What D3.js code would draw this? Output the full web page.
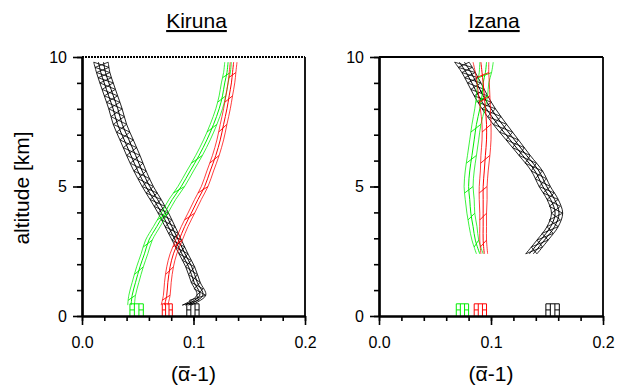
<!DOCTYPE html>
<html><head><meta charset="utf-8">
<script src="https://cdn.jsdelivr.net/npm/d3@7"></script>
<style>body{margin:0;background:#fff}text{font-family:"Liberation Sans",Arial,sans-serif}</style>
</head><body>
<script>
// ---------------- data ----------------
const xTicks = [0, 0.1, 0.2];
const xTickLabels = ["0.0", "0.1", "0.2"];
const yTicks = [0, 5, 10];
const yTickLabels = ["0", "5", "10"];

const kirunaAlt   = [0.42,0.8,1.3,1.9,2.4,2.93,3.45,3.97,4.5,5.0,5.6,6.2,6.8,7.4,8.0,8.5,9.0,9.4,9.8];
const kirunaBlack = [0.094,0.107,0.102,0.097,0.091,0.085,0.079,0.073,0.066,0.059,0.052,0.046,0.040,0.034,0.030,0.026,0.022,0.019,0.017];
const kirunaBlackHW = [0.004,0.004,0.004,0.004,0.004,0.0042,0.0045,0.0047,0.005,0.005,0.0055,0.006,0.006,0.006,0.006,0.006,0.006,0.006,0.0065];
const kirunaGreen = [0.044,0.045,0.048,0.052,0.056,0.060,0.067,0.074,0.081,0.089,0.097,0.105,0.112,0.118,0.123,0.126,0.128,0.130,0.131];
const kirunaGreenHW = [0.003,0.003,0.003,0.003,0.003,0.003,0.003,0.003,0.003,0.003,0.003,0.003,0.003,0.003,0.003,0.003,0.003,0.003,0.003];
const kirunaRed   = [0.074,0.076,0.077,0.079,0.082,0.087,0.092,0.098,0.104,0.110,0.115,0.120,0.124,0.127,0.130,0.132,0.134,0.135,0.136];
const kirunaRedHW = [0.003,0.003,0.003,0.003,0.003,0.003,0.003,0.003,0.003,0.003,0.003,0.003,0.003,0.003,0.003,0.003,0.003,0.003,0.003];
const kirunaBoxes = [
  {name:"green", lo:0.043, hi:0.055},
  {name:"red",   lo:0.072, hi:0.081},
  {name:"black", lo:0.094, hi:0.105}
];

const izanaAlt   = [2.4,2.93,3.45,3.97,4.5,5.0,5.6,6.2,6.8,7.4,8.0,8.5,9.0,9.4,9.8];
const izanaBlack = [0.136,0.146,0.155,0.159,0.155,0.148,0.141,0.130,0.119,0.108,0.098,0.091,0.085,0.080,0.074];
const izanaBlackHW = [0.005,0.005,0.005,0.005,0.005,0.005,0.005,0.005,0.0055,0.006,0.006,0.006,0.006,0.006,0.0065];
const izanaGreen = [0.090,0.086,0.084,0.082,0.081,0.080,0.081,0.083,0.085,0.087,0.090,0.092,0.093,0.095,0.096];
const izanaGreenHW = [0.003,0.003,0.0035,0.0035,0.004,0.004,0.004,0.004,0.004,0.004,0.0045,0.005,0.005,0.0055,0.006];
const izanaRed   = [0.094,0.093,0.093,0.093,0.093,0.093,0.094,0.095,0.096,0.096,0.095,0.094,0.093,0.092,0.091];
const izanaRedHW = [0.003,0.003,0.003,0.003,0.0035,0.0035,0.0035,0.004,0.004,0.004,0.0045,0.005,0.0055,0.006,0.007];
const izanaBoxes = [
  {name:"green", lo:0.069, hi:0.080},
  {name:"red",   lo:0.085, hi:0.096},
  {name:"black", lo:0.149, hi:0.161}
];
const boxTop = 0.47; // km

const colors = {black:"#000000", green:"#00ee00", red:"#ff0000"};

// ---------------- drawing ----------------
const svg = d3.select("body").append("svg").attr("width",617).attr("height",386);

function drawPanel(cfg){
  const x = d3.scaleLinear().domain([0,0.2]).range([cfg.left, cfg.right]);
  const y = d3.scaleLinear().domain([0,10]).range([316,57]);
  const g = svg.append("g");

  // title
  g.append("text").attr("x",(cfg.left+cfg.right)/2+3).attr("y",28)
    .attr("text-anchor","middle").attr("font-size",21)
    .style("text-decoration","underline").text(cfg.title);

  // series
  const line = d3.line().curve(d3.curveCatmullRom.alpha(0.5));
  cfg.series.forEach(s=>{
    const col = colors[s.name];
    const pts = (k)=> cfg.alt.map((a,i)=>[x(s.v[i]+k*s.hw[i]), y(a)]);
    if(s.name==="black"){
      [-1,-0.35,0.35,1].forEach((k,j)=>{
        g.append("path").attr("d",line(pts(k))).attr("fill","none")
          .attr("stroke", j===0||j===3 ? "#222" : "#000").attr("stroke-width", 1);
      });
      // cross hatching
      for(let i=0;i<cfg.alt.length-1;i++){
        const a0=cfg.alt[i], a1=cfg.alt[i+1];
        const steps=[[0,0.5],[0.5,1]];
        steps.forEach(([t0,t1])=>{
          const aa0=a0+(a1-a0)*t0, aa1=a0+(a1-a0)*t1;
          const v0=s.v[i]+(s.v[i+1]-s.v[i])*t0, v1=s.v[i]+(s.v[i+1]-s.v[i])*t1;
          const h0=s.hw[i]+(s.hw[i+1]-s.hw[i])*t0, h1=s.hw[i]+(s.hw[i+1]-s.hw[i])*t1;
          g.append("line").attr("x1",x(v0-h0)).attr("y1",y(aa0)).attr("x2",x(v1+h1)).attr("y2",y(aa1))
            .attr("stroke","#000").attr("stroke-width",0.8);
          g.append("line").attr("x1",x(v0+h0)).attr("y1",y(aa0)).attr("x2",x(v1-h1)).attr("y2",y(aa1))
            .attr("stroke","#000").attr("stroke-width",0.8);
        });
      }
    } else {
      [-1,0,1].forEach((k,j)=>{
        g.append("path").attr("d",line(pts(k))).attr("fill","none")
          .attr("stroke", col).attr("stroke-width", j===1?1:0.9).attr("stroke-opacity", j===1?1:0.85);
      });
      for(let i=1;i<cfg.alt.length;i+=2){
        const a0=cfg.alt[i-1], a1=cfg.alt[i];
        const am=(a0+a1)/2;
        const vm=(s.v[i-1]+s.v[i])/2, hm=(s.hw[i-1]+s.hw[i])/2;
        g.append("line").attr("x1",x(vm-hm)).attr("y1",y(am)).attr("x2",x(s.v[i]+s.hw[i])).attr("y2",y(a1))
          .attr("stroke",col).attr("stroke-width",0.9);
      }
    }
  });

  // boxes at ground
  cfg.boxes.forEach(b=>{
    const col = colors[b.name];
    const x0=x(b.lo), x1=x(b.hi), w=x1-x0, yt=y(boxTop), yb=y(0), ym=(yt+yb)/2;
    const bg = g.append("g").attr("stroke",col).attr("stroke-width",1).attr("fill","none");
    bg.append("path").attr("d",`M${x0},${yb}V${yt}H${x1}V${yb}`);
    bg.append("path").attr("d",`M${x0+w*0.33},${yt}V${yb}M${x1-w*0.33},${yt}V${yb}`);
    bg.append("path").attr("d",`M${x0},${ym}H${x0+w*0.33}M${x1-w*0.33},${ym}H${x1}`);
  });

  // axes
  const xMinor = d3.range(0,0.2001,0.02);
  const yMinor = d3.range(0,10.01,1);
  const bottomMinor = g.append("g").attr("transform","translate(0,316)")
    .call(d3.axisBottom(x).tickValues(xMinor).tickSize(5).tickSizeOuter(0).tickFormat(""));
  const bottomMajor = g.append("g").attr("transform","translate(0,316)")
    .call(d3.axisBottom(x).tickValues(xTicks).tickSize(9).tickSizeOuter(0).tickPadding(12)
      .tickFormat((d,i)=>xTickLabels[i]));
  const leftMinor = g.append("g").attr("transform",`translate(${cfg.left},0)`)
    .call(d3.axisLeft(y).tickValues(yMinor).tickSize(5).tickSizeOuter(0).tickFormat(""));
  const leftMajor = g.append("g").attr("transform",`translate(${cfg.left},0)`)
    .call(d3.axisLeft(y).tickValues(yTicks).tickSize(9).tickSizeOuter(0).tickPadding(6)
      .tickFormat((d,i)=>yTickLabels[i]));
  [bottomMinor,bottomMajor,leftMinor,leftMajor].forEach(a=>{
    a.selectAll("line").attr("stroke","#000").attr("stroke-width",1.6);
    a.select(".domain").attr("stroke","#000").attr("stroke-width",2.2);
    a.selectAll("text").attr("font-size",16).attr("fill","#000")
      .style("font-family",'"Liberation Sans",Arial,sans-serif');
  });
  // top and right frame
  g.append("line").attr("x1",cfg.left).attr("x2",cfg.right).attr("y1",y(10)).attr("y2",y(10))
    .attr("stroke","#000").attr("stroke-width",1.8)
    .attr("stroke-dasharray", cfg.dottedTop ? "2,1" : null);
  g.append("line").attr("x1",cfg.right).attr("x2",cfg.right).attr("y1",y(10)).attr("y2",y(0))
    .attr("stroke","#000").attr("stroke-width",1.8);
  // x axis title with overlined alpha
  const t = g.append("text").attr("x",(cfg.left+cfg.right)/2).attr("y",381)
    .attr("text-anchor","middle").attr("font-size",21).text("(α-1)");
  const n = t.node();
  const sx = n.getStartPositionOfChar(1).x, ex = n.getEndPositionOfChar(1).x;
  g.append("line").attr("x1",sx+1).attr("x2",ex-0.5).attr("y1",381-14).attr("y2",381-14)
    .attr("stroke","#000").attr("stroke-width",1.6);
}

drawPanel({title:"Kiruna", left:82, right:305, dottedTop:true, alt:kirunaAlt,
  series:[{name:"black",v:kirunaBlack,hw:kirunaBlackHW},{name:"green",v:kirunaGreen,hw:kirunaGreenHW},{name:"red",v:kirunaRed,hw:kirunaRedHW}],
  boxes:kirunaBoxes});
drawPanel({title:"Izana", left:379, right:603, dottedTop:false, alt:izanaAlt,
  series:[{name:"black",v:izanaBlack,hw:izanaBlackHW},{name:"green",v:izanaGreen,hw:izanaGreenHW},{name:"red",v:izanaRed,hw:izanaRedHW}],
  boxes:izanaBoxes});

// y axis title
svg.append("text").attr("transform","translate(29,188) rotate(-90)")
  .attr("text-anchor","middle").attr("font-size",21).text("altitude [km]");
</script>
</body></html>
